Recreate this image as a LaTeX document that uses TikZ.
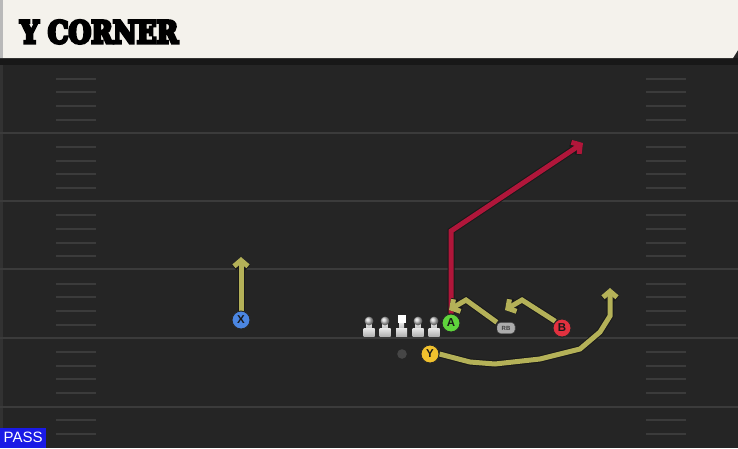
\documentclass[tikz,border=0pt]{standalone}
\usepackage{fontspec}
\setmainfont{Liberation Sans}
\newfontfamily\headfont{DejaVu Serif Condensed}
\usetikzlibrary{arrows.meta}
\definecolor{fieldbg}{HTML}{252525}
\definecolor{cream}{HTML}{F4F2EC}
\definecolor{yardline}{HTML}{3B3B3B}
\definecolor{routeyel}{HTML}{B4B158}
\definecolor{routered}{HTML}{B0163A}
\definecolor{pblue}{HTML}{4B86E2}
\definecolor{pgreen}{HTML}{5FD43C}
\definecolor{pyellow}{HTML}{F1C12E}
\definecolor{pred}{HTML}{E2313F}
\definecolor{passblue}{HTML}{1A1AE6}
\tikzset{
  player/.style={circle, draw=black!85, line width=0.9pt, minimum size=18pt, inner sep=0pt,
    font=\bfseries\fontsize{11.5}{11.5}\selectfont, text=black!90},
  routeline/.style={line width=5pt, line join=miter, line cap=butt,
    -{Straight Barb[length=6pt,width=14pt]},
    preaction={draw=black!90, line width=7pt, -{Straight Barb[length=6pt,width=14pt]}}},
  yardl/.style={draw=yardline, line width=2pt},
  hashm/.style={draw=yardline, line width=1.6pt},
  rbbox/.style={draw=black!80, fill=gray!65, rounded corners=3.5pt, minimum width=18pt,
    minimum height=11pt, inner sep=0pt, font=\bfseries\fontsize{6}{6}\selectfont, text=black!75},
}
\begin{document}
\begin{tikzpicture}[x=1pt,y=-1pt]
\useasboundingbox (0,0) rectangle (738,448);
% field
\fill[fieldbg] (0,0) rectangle (738,448);
\fill[black!35!fieldbg] (0,58) rectangle (738,65);
\fill[white!6!fieldbg] (0,65) rectangle (3,448);
% header
\fill[cream] (0,0) -- (738,0) -- (738,50) -- (733,58) -- (0,58) -- cycle;
\fill[gray!55] (0,0) rectangle (3,58);
\node[anchor=north west, inner sep=0pt] (title) at (20,20)
  {\resizebox{158pt}{23pt}{\special{pdf:literal direct 2 Tr 0.9 w}\headfont\bfseries Y CORNER\special{pdf:literal direct 0 Tr 0 w}}};
% yard lines
\foreach \y in {133,201,269,338,407} \draw[yardl] (0,\y) -- (738,\y);
% hash marks
\foreach \y in {79,92,106,120,147,161,174,188,215,229,243,256,284,297,311,325,352,366,379,393,420,434} {
  \draw[hashm] (56,\y) -- (96,\y);
  \draw[hashm] (646,\y) -- (686,\y);
}
% linemen
\foreach \cx in {369,385,418,434} {
  \shade[top color=gray!15, bottom color=gray!55] (\cx-2.5,323) rectangle (\cx+2.5,329);
  \shade[top color=gray!20, bottom color=gray!60] (\cx-5.5,328.5) rectangle (\cx+5.5,336);
  \shade[ball color=gray!45] (\cx,321) circle (4.4);
}
\shade[top color=gray!15, bottom color=gray!55] (399,322) rectangle (404,329);
\shade[top color=gray!20, bottom color=gray!60] (396,328.5) rectangle (407,336);
\fill[white] (397.5,315) rectangle (405.5,323);
% QB
\fill[gray!55!black] (402,354) circle (4.8);
% players
\node[player, fill=pblue] (X) at (241,320) {X};
\node[player, fill=pgreen] (A) at (451,323) {A};
\node[player, fill=pyellow] (Y) at (430,354) {Y};
\node[player, fill=pred] (B) at (562,328) {B};
\node[rbbox] (RB) at (506,328) {RB};
% route end points
\coordinate (xend) at (241,257);
\coordinate (aend) at (583,143);
\coordinate (yend) at (610,288);
\coordinate (rbend) at (449,310);
\coordinate (bend) at (505,310);
% routes
\draw[routeline, draw=routeyel] (X.north) -- (xend);
\draw[routeline, draw=routered] (A.north) -- (451,231) -- (aend);
\draw[routeline, draw=routeyel] (Y.east) -- (470,362) -- (495,364) -- (540,359) -- (580,349) -- (600,332) -- (610,316) -- (yend);
\draw[routeline, draw=routeyel] (RB.north west) -- (466,300) -- (rbend);
\draw[routeline, draw=routeyel] (B.north west) -- (522,300) -- (bend);
% players on top of routes
\node[player, fill=pblue] at (X) {X};
\node[player, fill=pgreen] at (A) {A};
\node[player, fill=pyellow] at (Y) {Y};
\node[player, fill=pred] at (B) {B};
\node[rbbox] at (RB) {RB};
% PASS label
\node[fill=passblue, text=white, anchor=south west, inner sep=0pt,
  minimum width=46pt, minimum height=20pt, font=\fontsize{15}{15}\selectfont] (pass) at (0,448) {PASS};
\end{tikzpicture}
\end{document}
